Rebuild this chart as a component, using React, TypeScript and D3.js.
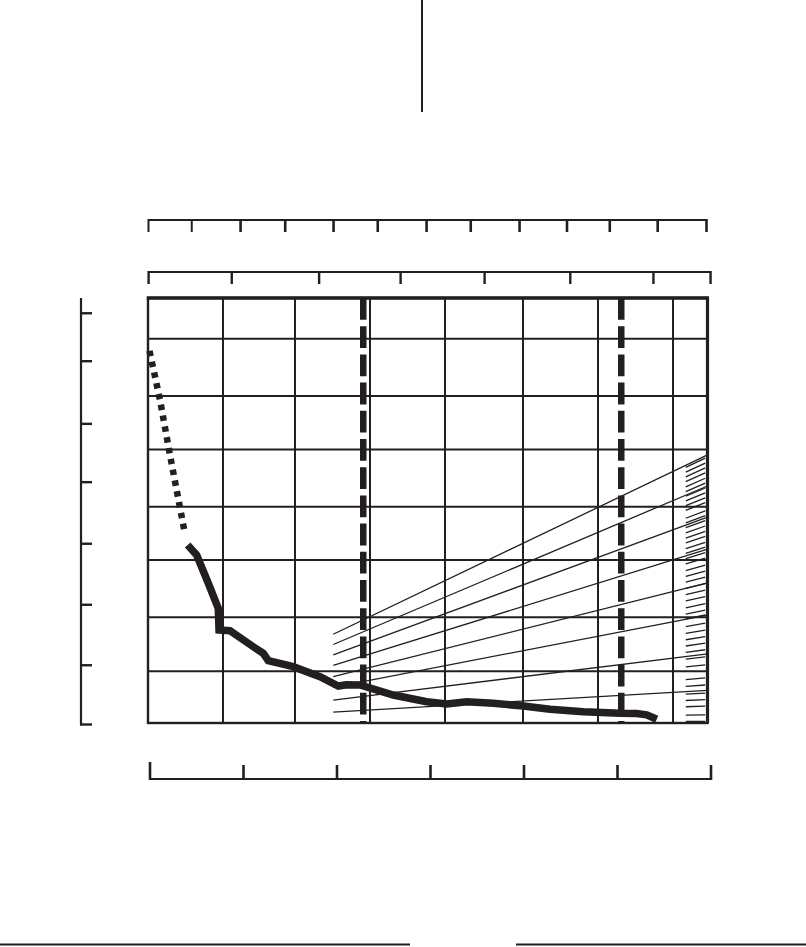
import React from "react";
import * as d3 from "d3";

// ---- data ----
const gridX = [1, 1.96, 2.96, 3.96, 5.0, 6.0, 7.0];
const gridY = [0.95, 1.94, 2.99, 3.97, 5.02, 6.0, 7.05];
const dashedX = [2.87, 6.31];

const dottedSeries: [number, number][] = [
  [0.02, 6.83],
  [0.16, 5.93],
  [0.293, 4.92],
  [0.493, 3.47],
];

const solidSeries: [number, number][] = [
  [0.529, 3.267],
  [0.649, 3.083],
  [0.804, 2.564],
  [0.937, 2.105],
  [0.947, 1.707],
  [1.093, 1.694],
  [1.404, 1.4],
  [1.537, 1.279],
  [1.604, 1.143],
  [1.937, 1.033],
  [2.293, 0.85],
  [2.537, 0.679],
  [2.649, 0.703],
  [2.827, 0.697],
  [3.271, 0.514],
  [3.716, 0.391],
  [3.983, 0.349],
  [4.249, 0.391],
  [4.604, 0.362],
  [5.004, 0.312],
  [5.36, 0.251],
  [5.804, 0.207],
  [6.293, 0.178],
  [6.516, 0.174],
  [6.649, 0.15],
  [6.783, 0.068],
];

// ray lines from the origin, value reached at the right edge
const fanEnds = [4.92, 4.35, 3.78, 3.19, 2.57, 1.98, 1.27, 0.6];
const fanStartX = 2.47;

const hatchEnds = [
  4.88, 4.79, 4.7, 4.61, 4.51, 4.42, 4.33, 4.24, 4.15, 4.06,
  3.91, 3.82, 3.73, 3.63, 3.53, 3.44, 3.33, 3.24, 3.14, 3.04,
  2.91, 2.8, 2.69, 2.57, 2.45, 2.33, 2.2, 2.08, 1.99,
  1.84, 1.71, 1.59, 1.47, 1.35, 1.22, 1.07,
  0.83, 0.7, 0.55, 0.43, 0.31, 0.15, 0.03,
];
const hatchFrom = 7.17;
const hatchTo = 7.43;

const leftTicks = [0, 1.06, 2.17, 3.29, 4.42, 5.49, 6.64, 7.52];
const topTicksA = [0, 0.93, 1.98, 2.94, 3.98, 4.93, 5.98, 6.93, 7.98, 9.0, 9.92, 10.95, 12];
const topTicksB = [0, 0.99, 2.03, 3.0, 4.0, 5.02, 6.01, 6.69];
const bottomTicks = [0, 1, 2, 3, 4, 5, 6];

const INK = "#231f20";

export default function App() {
  const W = 806;
  const H = 947;
  const xMax = 7.46;
  const yMax = 7.8;
  const x = d3.scaleLinear().domain([0, xMax]).range([148, 707.5]);
  const y = d3.scaleLinear().domain([0, yMax]).range([723, 298]);
  const topA = d3.scaleLinear().domain([0, 12]).range([148.5, 706.5]);
  const topB = d3.scaleLinear().domain([0, 7]).range([148.6, 736.6]);
  const bot = d3.scaleLinear().domain([0, 6]).range([150, 711]);

  const line = d3
    .line<[number, number]>()
    .x((d) => x(d[0]))
    .y((d) => y(d[1]));

  const ray = (end: number, xv: number) => (end * xv) / xMax;

  const x0 = x(0);
  const x1 = x(xMax);
  const y0 = y(0);
  const y1 = y(yMax);

  return (
    <svg
      width={W}
      height={H}
      style={{ position: "absolute", left: 0, top: 0, background: "#fff" }}
    >
      <rect width={W} height={H} fill="#fff" />
      {/* top separator */}
      <line x1={422} x2={422} y1={0} y2={112} stroke={INK} strokeWidth={2} />

      {/* top axis A */}
      <line x1={topA(0)} x2={topA(12)} y1={220} y2={220} stroke={INK} strokeWidth={2.2} />
      {topTicksA.map((t, i) => (
        <line key={"ta" + i} x1={topA(t)} x2={topA(t)} y1={219} y2={232} stroke={INK} strokeWidth={i < 2 ? 2 : 2.6} />
      ))}

      {/* top axis B */}
      <line x1={topB(0)} x2={topB(6.69)} y1={272} y2={272} stroke={INK} strokeWidth={2.2} />
      {topTicksB.map((t, i) => (
        <line key={"tb" + i} x1={topB(t)} x2={topB(t)} y1={271} y2={284} stroke={INK} strokeWidth={2.4} />
      ))}

      {/* left axis */}
      <line x1={81} x2={81} y1={y(yMax)} y2={y(-0.04)} stroke={INK} strokeWidth={2.2} />
      {leftTicks.map((t, i) => (
        <line key={"la" + i} x1={80} x2={92} y1={y(t) + (i === 0 ? 1.5 : 0)} y2={y(t) + (i === 0 ? 1.5 : 0)} stroke={INK} strokeWidth={2.4} />
      ))}

      {/* grid */}
      {gridX.map((g, i) => (
        <line key={"gx" + i} x1={x(g)} x2={x(g)} y1={y1} y2={y0} stroke={INK} strokeWidth={2} />
      ))}
      {gridY.map((g, i) => (
        <line key={"gy" + i} x1={x0} x2={x1} y1={y(g)} y2={y(g)} stroke={INK} strokeWidth={2} />
      ))}

      {/* fan rays */}
      {fanEnds.map((e, i) => (
        <line
          key={"f" + i}
          x1={x(fanStartX)}
          y1={y(ray(e, fanStartX))}
          x2={x(xMax)}
          y2={y(e)}
          stroke={INK}
          strokeWidth={1.3}
        />
      ))}
      {hatchEnds.map((e, i) => (
        <line
          key={"h" + i}
          x1={x(hatchFrom)}
          y1={y(ray(e, hatchFrom))}
          x2={x(hatchTo)}
          y2={y(ray(e, hatchTo))}
          stroke={INK}
          strokeWidth={1.3}
        />
      ))}

      {/* frame */}
      <rect x={x0} y={y1} width={x1 - x0} height={y0 - y1} fill="none" stroke={INK} strokeWidth={2.4} />
      <line x1={x0 - 1.2} x2={x1 + 1.5} y1={y1} y2={y1} stroke={INK} strokeWidth={3.4} />
      <line x1={x1} x2={x1} y1={y1} y2={y0} stroke={INK} strokeWidth={3.2} />

      {/* dashed verticals */}
      {dashedX.map((d, i) => (
        <line
          key={"d" + i}
          x1={x(d)}
          x2={x(d)}
          y1={y1}
          y2={y0}
          stroke={INK}
          strokeWidth={6.5}
          strokeDasharray="21.8 6.4"
        />
      ))}

      {/* main curve */}
      <path
        d={line(dottedSeries) || ""}
        fill="none"
        stroke={INK}
        strokeWidth={6.5}
        strokeDasharray="5.5 5.5"
      />
      <path
        d={line(solidSeries) || ""}
        fill="none"
        stroke={INK}
        strokeWidth={7.5}
        strokeLinejoin="miter"
        strokeLinecap="butt"
      />

      {/* bottom axis */}
      <line x1={bot(0)} x2={bot(6)} y1={779} y2={779} stroke={INK} strokeWidth={2.2} />
      {bottomTicks.map((t, i) => (
        <line key={"b" + i} x1={bot(t)} x2={bot(t)} y1={i === 0 ? 762 : 765} y2={780} stroke={INK} strokeWidth={2.6} />
      ))}

      {/* footer rule */}
      <line x1={0} x2={410} y1={944.5} y2={944.5} stroke={INK} strokeWidth={2} />
      <line x1={516} x2={806} y1={944.5} y2={944.5} stroke={INK} strokeWidth={2} />
    </svg>
  );
}
